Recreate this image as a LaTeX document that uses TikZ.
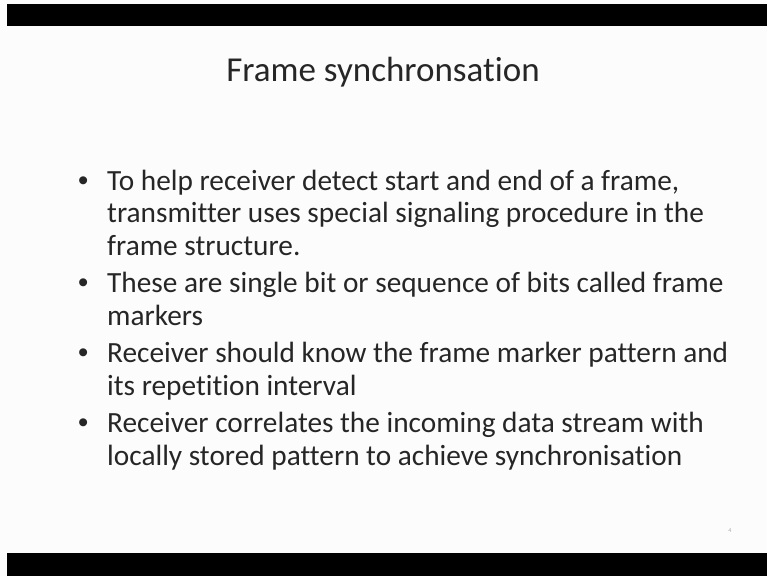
\documentclass[tikz,border=0pt]{standalone}
\usepackage{fontspec}
\setmainfont[Ligatures={NoCommon,NoContextual},RawFeature={-liga;-clig}]{Carlito}
\newfontfamily\bulletfont{Liberation Sans}
\definecolor{ink}{RGB}{38,38,38}
\definecolor{paper}{RGB}{252,252,252}
\definecolor{pagenum}{RGB}{170,170,170}
\begin{document}
\begin{tikzpicture}[x=1pt,y=-1pt,
  bodyline/.style={anchor=base west,inner sep=0pt,text=ink,
    font=\fontsize{29.3}{32.7}\selectfont},
  bulletmark/.style={anchor=base west,inner sep=0pt,text=ink,
    font=\bulletfont\fontsize{29.3}{32.7}\selectfont},
  titletext/.style={anchor=base,inner sep=0pt,text=ink,
    font=\fontsize{35}{40}\selectfont}]
\useasboundingbox (0,0) rectangle (767,576);
% slide background and the black bands
\fill[paper] (0,0) rectangle (767,576);
\fill[black] (7,4) rectangle (767,26);
\fill[black] (7,553) rectangle (767,576);
% title
\node[titletext] (title) at (383,81) {Frame synchronsation};
% bullets
\node[bulletmark] (b1) at (78,190) {•};
\node[bodyline] (l1) at (107,190) {To help receiver detect start and end of a frame,};
\node[bodyline] (l2) at (107,222.7) {transmitter uses special signaling procedure in the};
\node[bodyline] (l3) at (107,255.4) {frame structure.};
\node[bulletmark] (b2) at (78,292.6) {•};
\node[bodyline] (l4) at (107,292.6) {These are single bit or sequence of bits called frame};
\node[bodyline] (l5) at (107,325.3) {markers};
\node[bulletmark] (b3) at (78,362.5) {•};
\node[bodyline] (l6) at (107,362.5) {Receiver should know the frame marker pattern and};
\node[bodyline] (l7) at (107,395.2) {its repetition interval};
\node[bulletmark] (b4) at (78,432.4) {•};
\node[bodyline] (l8) at (107,432.4) {Receiver correlates the incoming data stream with};
\node[bodyline] (l9) at (107,465.1) {locally stored pattern to achieve synchronisation};
% slide number
\node[text=pagenum,font=\fontsize{6}{7}\selectfont,inner sep=0pt] (num) at (730,531) {4};
\end{tikzpicture}
\end{document}
